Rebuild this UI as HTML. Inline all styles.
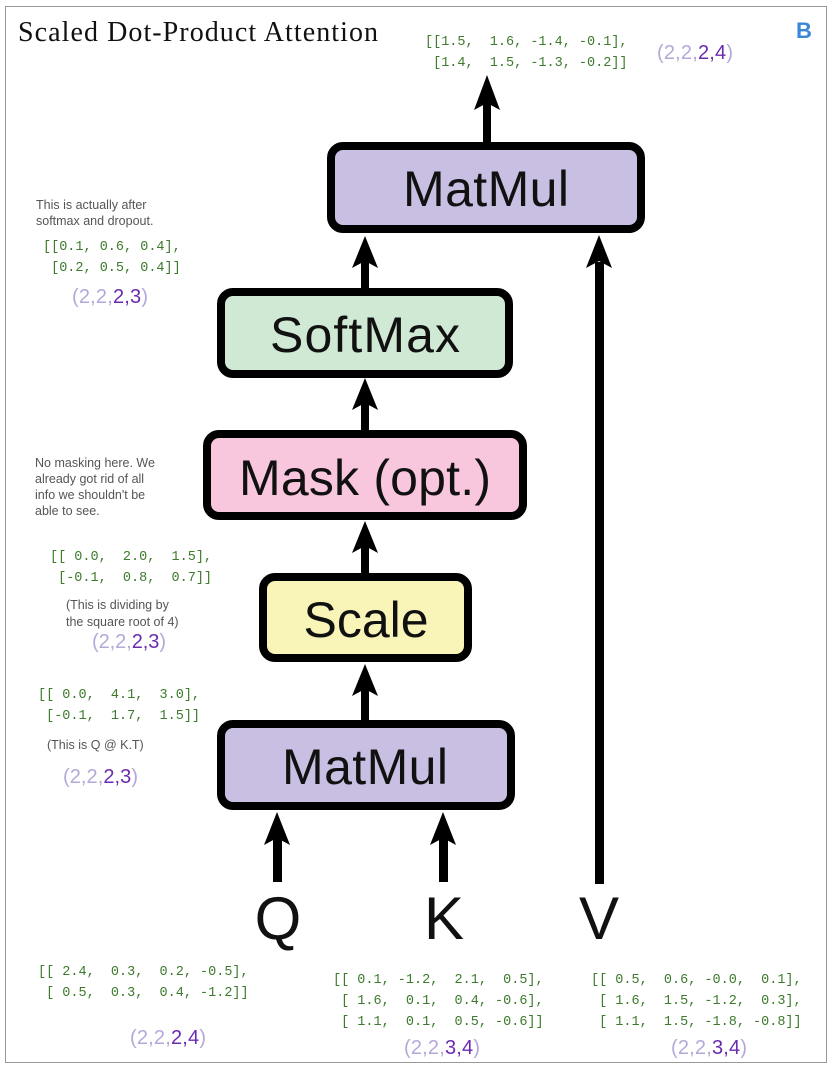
<!DOCTYPE html>
<html><head><meta charset="utf-8"><style>
html,body{margin:0;padding:0;background:#fff;}
svg{display:block}
.m{font-family:"Liberation Mono",monospace;font-size:13.5px;fill:#3d7a2c;white-space:pre}
.n{font-family:"Liberation Sans",sans-serif;font-size:12.5px;fill:#555}
.b{font-family:"Liberation Sans",sans-serif;fill:#111}
.s{font-family:"Liberation Sans",sans-serif;font-size:20px}
.l{fill:#b3a8d8}.d{fill:#6a2bb0}
</style></head><body>
<svg width="832" height="1070" viewBox="0 0 832 1070" xmlns="http://www.w3.org/2000/svg">
<defs><marker id="a" markerWidth="10" markerHeight="10" refX="5" refY="0" orient="auto" markerUnits="userSpaceOnUse"></marker></defs>
<rect x="5.5" y="6.5" width="821" height="1056" fill="#fff" stroke="#999" stroke-width="1"/>
<text x="18" y="41" font-family="Liberation Serif,serif" font-size="28" textLength="360" fill="#111">Scaled Dot-Product Attention</text>
<text x="796" y="38" font-family="Liberation Sans,sans-serif" font-weight="bold" font-size="22" fill="#3a86d8">B</text>
<text class="m" x="425" y="45" xml:space="preserve">[[1.5,  1.6, -1.4, -0.1],</text>
<text class="m" x="425" y="66" xml:space="preserve"> [1.4,  1.5, -1.3, -0.2]]</text>
<text class="s" x="657" y="59" textLength="76"><tspan class="l">(2,2,</tspan><tspan class="d">2,4</tspan><tspan class="l">)</tspan></text>

<!-- arrows -->
<g fill="#000">
<rect x="483" y="100" width="8" height="44"/><polygon points="487,75 474,110 487,103 500,110"/>
<rect x="361" y="260" width="8" height="30"/><polygon points="365,236 352,268 365,261 378,268"/>
<rect x="361" y="402" width="8" height="30"/><polygon points="365,378 352,410 365,403 378,410"/>
<rect x="361" y="545" width="8" height="30"/><polygon points="365,521 352,553 365,546 378,553"/>
<rect x="361" y="688" width="8" height="34"/><polygon points="365,664 352,696 365,689 378,696"/>
<rect x="595" y="262" width="9" height="622"/><polygon points="599,235 586,268 599,261 612,268"/>
<rect x="273" y="838" width="9" height="44"/><polygon points="277,812 264,845 277,838 290,845"/>
<rect x="439" y="838" width="9" height="44"/><polygon points="443,812 430,845 443,838 456,845"/>
</g>

<!-- boxes -->
<rect x="331" y="146" width="310" height="83" rx="12" fill="#c8bfe2" stroke="#000" stroke-width="8"/>
<text class="b" x="486" y="206" font-size="50" text-anchor="middle" textLength="166">MatMul</text>
<rect x="221" y="292" width="288" height="82" rx="12" fill="#d0e9d5" stroke="#000" stroke-width="8"/>
<text class="b" x="365" y="352" font-size="50" text-anchor="middle" textLength="190">SoftMax</text>
<rect x="207" y="434" width="316" height="82" rx="12" fill="#f8c7dd" stroke="#000" stroke-width="8"/>
<text class="b" x="365" y="495" font-size="50" text-anchor="middle" textLength="252">Mask (opt.)</text>
<rect x="263" y="577" width="205" height="81" rx="12" fill="#f9f5b8" stroke="#000" stroke-width="8"/>
<text class="b" x="366" y="637" font-size="50" text-anchor="middle" textLength="125">Scale</text>
<rect x="221" y="724" width="290" height="82" rx="12" fill="#c8bfe2" stroke="#000" stroke-width="8"/>
<text class="b" x="365" y="784" font-size="50" text-anchor="middle" textLength="166">MatMul</text>

<text class="b" x="278" y="939" font-size="60" text-anchor="middle">Q</text>
<text class="b" x="444" y="939" font-size="60" text-anchor="middle">K</text>
<text class="b" x="599" y="939" font-size="60" text-anchor="middle">V</text>

<!-- left notes -->
<text class="n" x="36" y="209">This is actually after</text>
<text class="n" x="36" y="225">softmax and dropout.</text>
<text class="m" x="43" y="250" xml:space="preserve">[[0.1, 0.6, 0.4],</text>
<text class="m" x="43" y="271" xml:space="preserve"> [0.2, 0.5, 0.4]]</text>
<text class="s" x="72" y="303" textLength="76"><tspan class="l">(2,2,</tspan><tspan class="d">2,3</tspan><tspan class="l">)</tspan></text>

<text class="n" x="35" y="467">No masking here. We</text>
<text class="n" x="35" y="483">already got rid of all</text>
<text class="n" x="35" y="499">info we shouldn't be</text>
<text class="n" x="35" y="515">able to see.</text>
<text class="m" x="50" y="560" xml:space="preserve">[[ 0.0,  2.0,  1.5],</text>
<text class="m" x="50" y="581" xml:space="preserve"> [-0.1,  0.8,  0.7]]</text>
<text class="n" x="66" y="609" font-size="13.5">(This is dividing by</text>
<text class="n" x="66" y="626" font-size="13.5">the square root of 4)</text>
<text class="s" x="92" y="648" textLength="74"><tspan class="l">(2,2,</tspan><tspan class="d">2,3</tspan><tspan class="l">)</tspan></text>

<text class="m" x="38" y="698" xml:space="preserve">[[ 0.0,  4.1,  3.0],</text>
<text class="m" x="38" y="719" xml:space="preserve"> [-0.1,  1.7,  1.5]]</text>
<text class="n" x="47" y="749" font-size="13.5">(This is Q @ K.T)</text>
<text class="s" x="63" y="783" textLength="75"><tspan class="l">(2,2,</tspan><tspan class="d">2,3</tspan><tspan class="l">)</tspan></text>

<!-- bottom -->
<text class="m" x="38" y="975" xml:space="preserve">[[ 2.4,  0.3,  0.2, -0.5],</text>
<text class="m" x="38" y="996" xml:space="preserve"> [ 0.5,  0.3,  0.4, -1.2]]</text>
<text class="s" x="130" y="1044" textLength="76"><tspan class="l">(2,2,</tspan><tspan class="d">2,4</tspan><tspan class="l">)</tspan></text>

<text class="m" x="333" y="983" xml:space="preserve">[[ 0.1, -1.2,  2.1,  0.5],</text>
<text class="m" x="333" y="1004" xml:space="preserve"> [ 1.6,  0.1,  0.4, -0.6],</text>
<text class="m" x="333" y="1025" xml:space="preserve"> [ 1.1,  0.1,  0.5, -0.6]]</text>
<text class="s" x="404" y="1054" textLength="76"><tspan class="l">(2,2,</tspan><tspan class="d">3,4</tspan><tspan class="l">)</tspan></text>

<text class="m" x="591" y="983" xml:space="preserve">[[ 0.5,  0.6, -0.0,  0.1],</text>
<text class="m" x="591" y="1004" xml:space="preserve"> [ 1.6,  1.5, -1.2,  0.3],</text>
<text class="m" x="591" y="1025" xml:space="preserve"> [ 1.1,  1.5, -1.8, -0.8]]</text>
<text class="s" x="671" y="1054" textLength="76"><tspan class="l">(2,2,</tspan><tspan class="d">3,4</tspan><tspan class="l">)</tspan></text>
</svg>
</body></html>
